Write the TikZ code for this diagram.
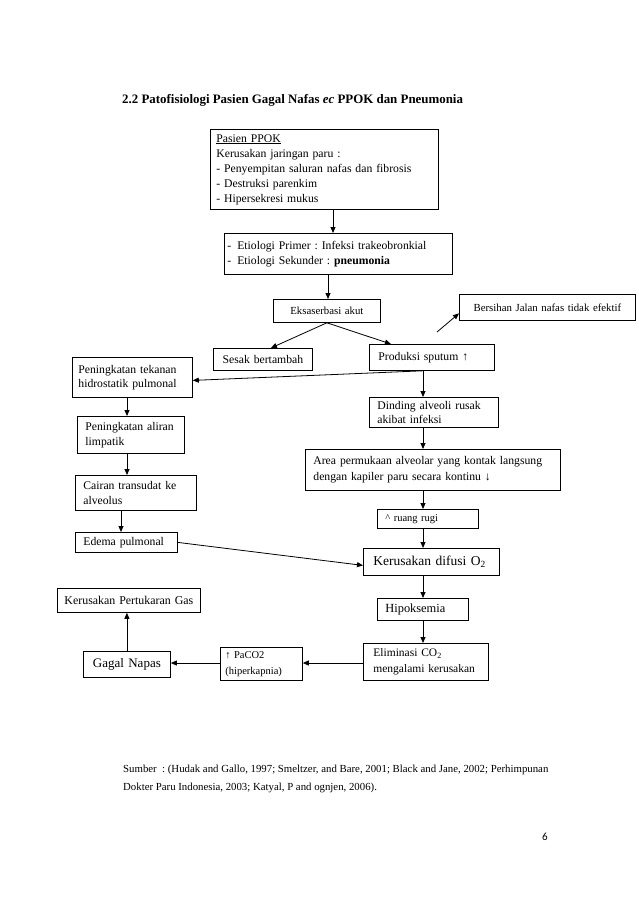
\documentclass[tikz,border=0pt]{standalone}
\usepackage{fontspec}
\setmainfont{Liberation Serif}
\newfontfamily\pagefont{Carlito}
\usetikzlibrary{arrows.meta}
\frenchspacing
\newcommand\fs[2]{\fontsize{#1}{#2}\selectfont}
\tikzset{
  bx/.style={draw, line width=0.8pt, anchor=north west, inner ysep=0pt, inner xsep=#1},
  bx/.default=4pt,
  arr/.style={line width=0.8pt, -{Triangle[length=6pt,width=5pt]}},
  ln/.style={line width=0.8pt}
}
\begin{document}
\begin{tikzpicture}[x=1pt,y=-1pt]
\useasboundingbox (0,0) rectangle (638,902);
\fill[white] (0,0) rectangle (638,902);

\node[anchor=base west, inner sep=0pt, font={\fs{12.9}{15}\bfseries}] (title) at (122,103)
  {2.2 Patofisiologi Pasien Gagal Nafas \textit{ec} PPOK dan Pneumonia};

% boxes
\node[bx=6pt, text width=216pt, minimum height=80pt, align=left, font={\fs{11.7}{15}}] (b1) at (210,129)
  {\underline{Pasien PPOK}\\Kerusakan jaringan paru :\\- Penyempitan saluran nafas dan fibrosis\\- Destruksi parenkim\\- Hipersekresi mukus};
\node[bx=3pt, text width=222pt, minimum height=41pt, align=left, font={\fs{11.7}{15}}] (b2) at (224,233)
  {-\hspace{6pt}Etiologi Primer : Infeksi trakeobronkial\\-\hspace{6pt}Etiologi Sekunder : \textbf{pneumonia}};
\node[bx=4pt, text width=99pt, minimum height=23pt, align=center, font={\fs{10.8}{13}}] (b3) at (273,299) {Eksaserbasi akut};
\node[bx=4pt, text width=168pt, minimum height=26pt, align=center, font={\fs{10.8}{13}}] (b4) at (459,294) {Bersihan Jalan nafas tidak efektif};
\node[bx=4pt, text width=91pt, minimum height=22pt, align=center, font={\fs{11.7}{14}}] (b5) at (213,348) {Sesak bertambah};
\node[bx=9pt, text width=107pt, minimum height=26pt, align=left, font={\fs{11.7}{14}}] (b6) at (369,344) {Produksi sputum ↑};
\node[bx=6pt, text width=108pt, minimum height=40pt, align=left, font={\fs{11.7}{14}}] (b7) at (72,357) {Peningkatan tekanan\\hidrostatik pulmonal};
\node[bx=8pt, text width=91pt, minimum height=37pt, align=left, font={\fs{11.7}{15}}] (b8) at (77,416) {Peningkatan aliran\\limpatik};
\node[bx=8pt, text width=105pt, minimum height=35pt, align=left, font={\fs{11.7}{15}}] (b9) at (75,475) {Cairan transudat ke\\alveolus};
\node[bx=8pt, text width=86pt, minimum height=20pt, align=left, font={\fs{11.7}{14}}] (b10) at (75,532) {Edema pulmonal};
\node[bx=8pt, text width=113pt, minimum height=30pt, align=left, font={\fs{11.7}{13.5}}] (b11) at (369,397) {Dinding alveoli rusak\\akibat infeksi};
\node[bx=8pt, text width=239pt, minimum height=41pt, align=left, font={\fs{11.7}{16}}] (b12) at (305,449)
  {Area permukaan alveolar yang kontak langsung\\dengan kapiler paru secara kontinu ↓};
\node[bx=8pt, text width=85pt, minimum height=19pt, align=left, font={\fs{10.5}{12}}] (b13) at (377,509) {\textasciicircum\ ruang rugi};
\node[bx=10pt, text width=116pt, minimum height=27pt, align=left, font={\fs{13.5}{15}}] (b14) at (363,548) {Kerusakan difusi O\textsubscript{2}};
\node[bx=8pt, text width=75pt, minimum height=22pt, align=left, font={\fs{12.4}{14}}] (b15) at (377,598) {Hipoksemia};
\node[bx=10pt, text width=105pt, minimum height=37pt, align=left, font={\fs{11.5}{16}}] (b16) at (363,643) {Eliminasi CO\textsubscript{2}\\mengalami kerusakan};
\node[bx=5pt, text width=72pt, minimum height=33pt, align=left, font={\fs{10.5}{16}}] (b17) at (220,647) {↑ PaCO2\\(hiperkapnia)};
\node[bx=4pt, text width=79pt, minimum height=26pt, align=center, font={\fs{13}{15}}] (b18) at (83,651) {Gagal Napas};
\node[bx=4pt, text width=135pt, minimum height=24pt, align=center, font={\fs{11.9}{14}}] (b19) at (57,588) {Kerusakan Pertukaran Gas};

% source and page number
\node[anchor=north west, inner sep=0pt, align=left, font={\fs{10.8}{18}}] (src) at (123,765)
  {Sumber\ \ : (Hudak and Gallo, 1997; Smeltzer, and Bare, 2001; Black and Jane, 2002; Perhimpunan\\Dokter Paru Indonesia, 2003; Katyal, P and ognjen, 2006).};
\node[anchor=base, inner sep=0pt, font={\pagefont\fs{11}{13}}] (pg) at (545,840) {6};

% helper coordinates
\coordinate (x333) at (333,0);
\coordinate (x328) at (328,0);
\coordinate (x423) at (423,0);
\coordinate (x127) at (127,0);
\coordinate (x121) at (121,0);
\coordinate (y663) at (0,663);
\coordinate (fa) at (437,332);

% connectors
\draw[arr] (b1.south -| x333) -- (b2.north -| x333);
\draw[arr] (b2.south -| x328) -- (b3.north -| x328);
\draw[arr] (b3.south) -- ([xshift=8pt]b5.north);
\draw[arr] (b3.south) -- ([xshift=-41pt]b6.north);
\draw[arr] (fa) -- ([yshift=-6pt]b4.west);
\draw[arr] (b6.south -| x423) -- ([yshift=-3pt]b7.east);
\draw[arr] (b6.south -| x423) -- (b11.north -| x423);
\draw[arr] (b11.south -| x423) -- (b12.north -| x423);
\draw[arr] (b12.south -| x423) -- (b13.north -| x423);
\draw[arr] (b13.south -| x423) -- (b14.north -| x423);
\draw[arr] (b14.south -| x423) -- (b15.north -| x423);
\draw[arr] (b15.south -| x423) -- (b16.north -| x423);
\draw[arr] (b7.south -| x127) -- (b8.north -| x127);
\draw[arr] (b8.south -| x127) -- (b9.north -| x127);
\draw[arr] (b9.south -| x121) -- (b10.north -| x121);
\draw[arr] (b10.east) -- ([yshift=-3.5pt]b14.west);
\draw[arr] (b16.west |- y663) -- (b17.east |- y663);
\draw[arr] (b17.west |- y663) -- (b18.east |- y663);
\draw[arr] (b18.north) -- (b18.north |- b19.south);
\end{tikzpicture}
\end{document}
